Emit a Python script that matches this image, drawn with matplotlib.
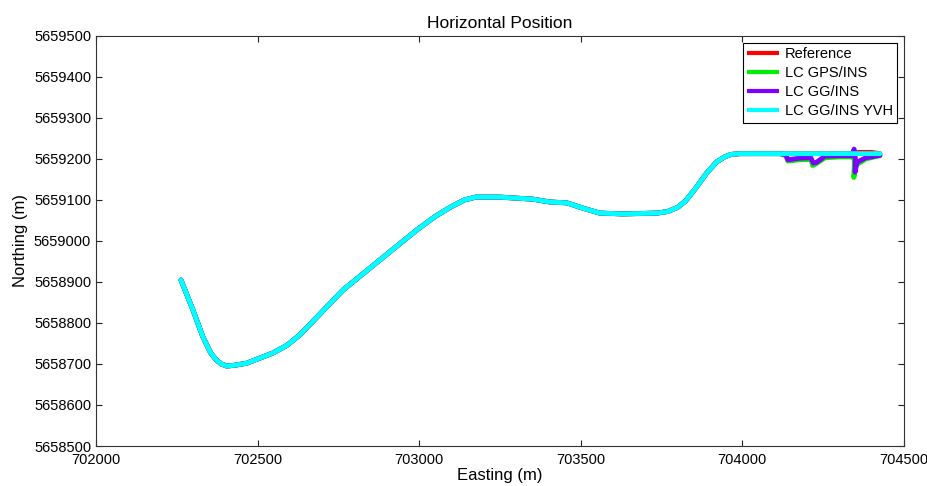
import numpy as np
import matplotlib.pyplot as plt

plt.rcParams['font.family'] = ['Liberation Sans', 'DejaVu Sans']

# shared trajectory (all four solutions overlap here)
east_common = [702263, 702300, 702331, 702355, 702372, 702388, 702405, 702430, 702467,
               702548, 702590, 702631, 702764, 702879, 702993, 703050, 703100, 703140,
               703175, 703250, 703352, 703405, 703457, 703507, 703559, 703631, 703736,
               703770, 703800, 703825, 703859, 703890, 703921, 703945, 703965, 703993,
               704050, 704116]
north_common = [5658905, 5658832, 5658766, 5658727, 5658710, 5658700, 5658695, 5658697, 5658702,
                5658727, 5658745, 5658771, 5658880, 5658954, 5659027, 5659060, 5659084, 5659100,
                5659107, 5659107, 5659102, 5659095, 5659093, 5659080, 5659068, 5659066, 5659068,
                5659072, 5659082, 5659098, 5659132, 5659166, 5659193, 5659205, 5659211, 5659213,
                5659213, 5659213]

# end of track, where the solutions split
east_ref = [704200, 704340, 704360, 704400, 704426]
north_ref = [5659213, 5659213, 5659216, 5659216, 5659213]

east_gps = [704135, 704141, 704178, 704212, 704218, 704228, 704256, 704302,
            704339, 704344, 704347, 704345, 704352, 704382, 704426]
north_gps = [5659208, 5659195, 5659198, 5659199, 5659184, 5659188, 5659203, 5659205,
             5659205, 5659215, 5659190, 5659155, 5659185, 5659200, 5659208]

east_gg = [704135, 704141, 704178, 704212, 704220, 704230, 704256, 704302,
           704339, 704346, 704350, 704349, 704355, 704382, 704426]
north_gg = [5659210, 5659198, 5659202, 5659203, 5659190, 5659192, 5659207, 5659208,
            5659208, 5659224, 5659200, 5659168, 5659192, 5659203, 5659209]

east_yvh = [704200, 704300, 704426]
north_yvh = [5659213, 5659213, 5659213]

series = [
    ('Reference', east_ref, north_ref, '#ff0000'),
    ('LC GPS/INS', east_gps, north_gps, '#00ee00'),
    ('LC GG/INS', east_gg, north_gg, '#7f00ff'),
    ('LC GG/INS YVH', east_yvh, north_yvh, '#00ffff'),
]

fig = plt.figure(figsize=(9.28, 4.86), dpi=100)
ax = fig.add_axes([0.1034, 0.0823, 0.8706, 0.8437])

for name, e, n, c in series:
    x = np.concatenate([east_common, e])
    y = np.concatenate([north_common, n])
    ax.plot(x, y, color=c, lw=3.5, label=name, solid_joinstyle='round', solid_capstyle='round')

ax.set_xlim(702000, 704500)
ax.set_ylim(5658500, 5659500)
ax.set_xticks(np.arange(702000, 704501, 500))
ax.set_yticks(np.arange(5658500, 5659501, 100))
ax.ticklabel_format(useOffset=False, style='plain')
ax.tick_params(direction='in', top=True, right=True, length=4, labelsize=10.5,
               colors='#222222', labelcolor='black')
ax.tick_params(axis='x', pad=5)
for s in ax.spines.values():
    s.set_color('#333333')
    s.set_linewidth(0.8)

ax.set_title('Horizontal Position', fontsize=12.5)
ax.set_xlabel('Easting (m)', fontsize=12, labelpad=1)
ax.set_ylabel('Northing (m)', fontsize=12, labelpad=4)

leg = ax.legend(loc='upper right', fontsize=10.5, fancybox=False, framealpha=1,
                edgecolor='black', handlelength=2.2, borderpad=0.3,
                labelspacing=0.35, handletextpad=0.4, borderaxespad=0.45)
leg.get_frame().set_linewidth(0.8)
for line in leg.get_lines():
    line.set_solid_capstyle('butt')
    line.set_linewidth(3)

fig.savefig('out.png', dpi=100)
